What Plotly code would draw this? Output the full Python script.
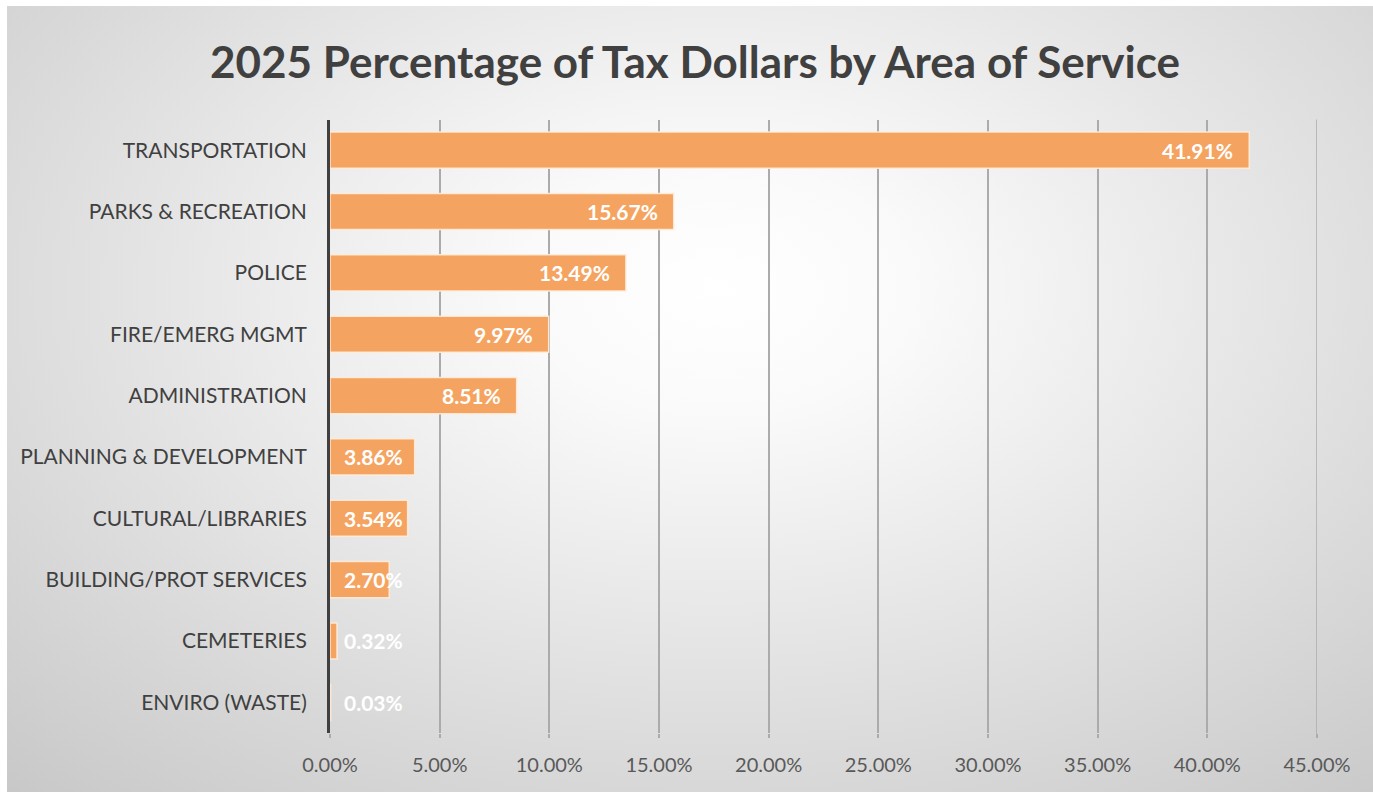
import plotly.graph_objects as go

# Share of 2025 tax dollars by service area (percent)
categories = [
    "TRANSPORTATION",
    "PARKS & RECREATION",
    "POLICE",
    "FIRE/EMERG MGMT",
    "ADMINISTRATION",
    "PLANNING & DEVELOPMENT",
    "CULTURAL/LIBRARIES",
    "BUILDING/PROT SERVICES",
    "CEMETERIES",
    "ENVIRO (WASTE)",
]
shares = [41.91, 15.67, 13.49, 9.97, 8.51, 3.86, 3.54, 2.70, 0.32, 0.03]
x_ticks = [0, 5, 10, 15, 20, 25, 30, 35, 40, 45]
x_tick_labels = [f"{t:.2f}%" for t in x_ticks]

W, H = 1373, 792
FONT = "Lato"
BAR = "#F4A460"
GRID = "#ABABAB"

fig = go.Figure()

# Soft radial background (white centre fading to grey), on its own full-size axes
cx, cy, hx, hy = 0.52, 0.64, 0.95, 1.05
fig.add_trace(go.Scatter(
    x=[cx - hx, cx + hx, cx + hx, cx - hx, cx - hx],
    y=[cy - hy, cy - hy, cy + hy, cy + hy, cy - hy],
    mode="lines", line=dict(width=0), fill="toself",
    fillgradient=dict(type="radial",
                      colorscale=[[0, "#FFFFFF"], [0.15, "#FAFAFA"], [0.6, "#D8D8D8"], [1, "#BBBBBB"]]),
    hoverinfo="skip", showlegend=False, xaxis="x", yaxis="y",
))

# Bars
fig.add_trace(go.Bar(
    x=shares, y=categories, orientation="h",
    marker=dict(color=BAR, line=dict(color="rgba(255,236,218,0.9)", width=1.5)),
    hoverinfo="skip", showlegend=False, xaxis="x2", yaxis="y2",
))

# Value labels: at the bar end when the bar is wide enough, otherwise from the base
for cat, v in zip(categories, shares):
    wide = v >= 5
    fig.add_annotation(
        x=v if wide else 0, y=cat, xref="x2", yref="y2",
        text=f"<b>{v:.2f}%</b>", showarrow=False,
        xanchor="right" if wide else "left", xshift=-14 if wide else 12,
        font=dict(family=FONT, size=21, color="white"),
    )

# Gridline at the last tick, which sits on the edge of the range
fig.add_shape(type="line", xref="x2", yref="y2 domain",
              x0=x_ticks[-1], x1=x_ticks[-1], y0=-0.006, y1=1,
              line=dict(color=GRID, width=1.5), layer="above")

# Plot-area placement in pixels
x_max = 45
plot_l, plot_r, plot_t, plot_b = 330, 1317, 119.5, 733
ml, mt = 7, 6
pw, ph = W - ml, H - mt
xd = [(plot_l - ml) / pw, (plot_r - ml) / pw]
yd = [(H - plot_b) / ph, (H - plot_t) / ph]

fig.update_layout(
    width=W, height=H,
    margin=dict(l=ml, r=0, t=mt, b=0, pad=0, autoexpand=False),
    paper_bgcolor="white", plot_bgcolor="rgba(0,0,0,0)",
    bargap=0.41,
    title=dict(text="<b>2025 Percentage of Tax Dollars by Area of Service</b>",
               x=695 / W, xanchor="center", y=1 - 63 / H, yanchor="middle",
               font=dict(family=FONT, size=44, color="#404040")),
    xaxis=dict(range=[0, 1], domain=[0, 1], visible=False, fixedrange=True, automargin=False),
    yaxis=dict(range=[0, 1], domain=[0, 1], visible=False, fixedrange=True, automargin=False),
    xaxis2=dict(domain=xd, anchor="y2", range=[0, x_max], tickvals=x_ticks, ticktext=x_tick_labels,
                showgrid=True, gridcolor=GRID, gridwidth=1.5, zeroline=False,
                ticks="outside", ticklen=4, tickcolor=GRID, tickwidth=1.5,
                ticklabelstandoff=10, automargin=False,
                tickfont=dict(family=FONT, size=20, color="#595959"), fixedrange=True),
    yaxis2=dict(domain=yd, anchor="x2", categoryorder="array", categoryarray=categories,
                autorange="reversed", showgrid=False, zeroline=False,
                showline=True, linecolor="#404040", linewidth=3, ticks="",
                ticklabelstandoff=16, automargin=False,
                tickfont=dict(family=FONT, size=21, color="#404040"), fixedrange=True),
)

fig.write_html("out.html")
